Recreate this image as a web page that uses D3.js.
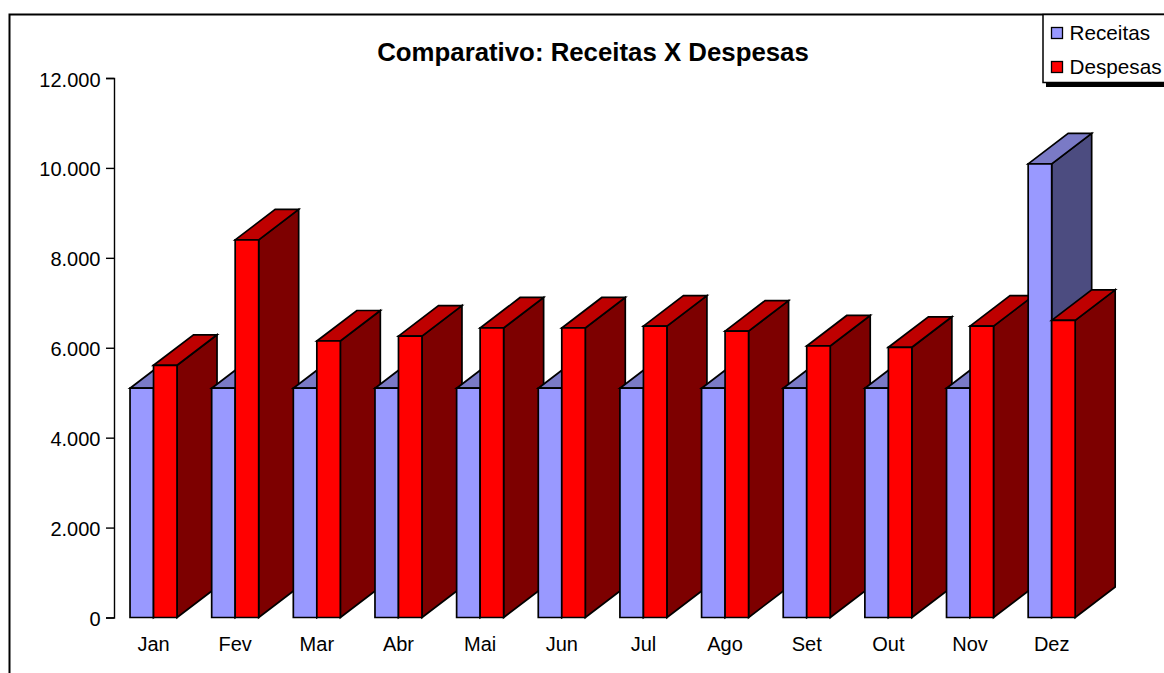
<!DOCTYPE html>
<html lang="pt">
<head>
<meta charset="utf-8">
<title>Comparativo: Receitas X Despesas</title>
<script src="https://cdn.jsdelivr.net/npm/d3@7"></script>
<style>
  html, body { margin: 0; padding: 0; background: #fff; }
  svg { display: block; font-family: "Liberation Sans", Arial, sans-serif; }
</style>
</head>
<body>
<svg id="chart" width="1164" height="673"></svg>
<script>
const meses = ["Jan","Fev","Mar","Abr","Mai","Jun","Jul","Ago","Set","Out","Nov","Dez"];
const receitas = [5100,5100,5100,5100,5100,5100,5100,5100,5100,5100,5100,10090];
const despesas = [5610,8400,6150,6260,6440,6440,6480,6370,6040,6010,6480,6610];
const yTicks = [0,2000,4000,6000,8000,10000,12000];
const tickLabels = ["0","2.000","4.000","6.000","8.000","10.000","12.000"];

const svg = d3.select("#chart");

// Plot scales: one band per month, two bars side by side inside it
const x = d3.scaleBand().domain(meses).range([112.7, 1092.5]);
const serie = d3.scaleBand().domain(["receitas","despesas"])
  .range([x.bandwidth() / 2 - 23.5, x.bandwidth() / 2 + 23.5]);
const y = d3.scaleLinear().domain([0, 12000]).range([617.5, 78]);

// Oblique offset of the extruded bars
const depthX = 40, depthY = -30.5;

const estilos = {
  receitas: { front: "#9999ff", top: "#7a7ac6", side: "#4c4c80" },
  despesas: { front: "#ff0000", top: "#bf0000", side: "#7d0000" }
};

// Outer frame: open at the bottom and at the right edge
svg.append("path")
  .attr("d", "M9.5 673V14.5H1164")
  .attr("fill", "none").attr("stroke", "#000").attr("stroke-width", 2);

svg.append("text")
  .attr("x", 593).attr("y", 61)
  .attr("text-anchor", "middle")
  .attr("font-size", 25.8).attr("font-weight", "bold")
  .text("Comparativo: Receitas X Despesas");

// Vertical axis
const axisY = d3.axisLeft(y)
  .tickValues(yTicks)
  .tickFormat((d) => tickLabels[yTicks.indexOf(d)])
  .tickSize(8).tickSizeOuter(8).tickPadding(5.5);
const gy = svg.append("g").attr("transform", "translate(114,0)").call(axisY);
gy.selectAll("path, line").attr("stroke", "#000").attr("stroke-width", 1.4);
gy.selectAll("text").attr("font-size", 20).attr("fill", "#000").attr("dy", "0.4em")
  .attr("font-family", "'Liberation Sans', Arial, sans-serif");

// Extruded bars, painted left to right so nearer months cover earlier side faces
function caixa(g, nome, mes, valor) {
  const x0 = x(mes) + serie(nome), x1 = x0 + serie.bandwidth();
  const y0 = y(0), y1 = y(valor);
  const c = estilos[nome];
  const face = (pts, fill) => g.append("path")
    .attr("d", d3.line()(pts) + "Z")
    .attr("fill", fill).attr("stroke", "#000")
    .attr("stroke-width", 1.7).attr("stroke-linejoin", "miter");
  face([[x1,y0],[x1+depthX,y0+depthY],[x1+depthX,y1+depthY],[x1,y1]], c.side);
  face([[x0,y1],[x0+depthX,y1+depthY],[x1+depthX,y1+depthY],[x1,y1]], c.top);
  face([[x0,y0],[x0,y1],[x1,y1],[x1,y0]], c.front);
}

const barras = svg.append("g");
meses.forEach((m, i) => {
  caixa(barras, "receitas", m, receitas[i]);
  caixa(barras, "despesas", m, despesas[i]);
});

// Month labels
svg.append("g").selectAll("text").data(meses).join("text")
  .attr("x", (d) => x(d) + x.bandwidth() / 2)
  .attr("y", 651)
  .attr("text-anchor", "middle")
  .attr("font-size", 20)
  .text((d) => d);

// Legend box with its hard drop shadow
const legendItems = [["Receitas", estilos.receitas.front], ["Despesas", estilos.despesas.front]];
const legend = svg.append("g");
legend.append("rect").attr("x", 1046).attr("y", 78).attr("width", 118).attr("height", 9).attr("fill", "#000");
legend.append("rect").attr("x", 1043).attr("y", 14.5).attr("width", 122).attr("height", 68)
  .attr("fill", "#fff").attr("stroke", "#000").attr("stroke-width", 1.5);
const fila = d3.scaleBand().domain(legendItems.map((d) => d[0])).range([16, 84]);
legendItems.forEach(([nome, cor]) => {
  const cy = fila(nome) + fila.bandwidth() / 2;
  legend.append("rect").attr("x", 1051.5).attr("y", cy - 5.5).attr("width", 11).attr("height", 11)
    .attr("fill", cor).attr("stroke", "#000").attr("stroke-width", 1.3);
  legend.append("text").attr("x", 1069.5).attr("y", cy + 6.5).attr("font-size", 20.7).text(nome);
});
</script>
</body>
</html>
